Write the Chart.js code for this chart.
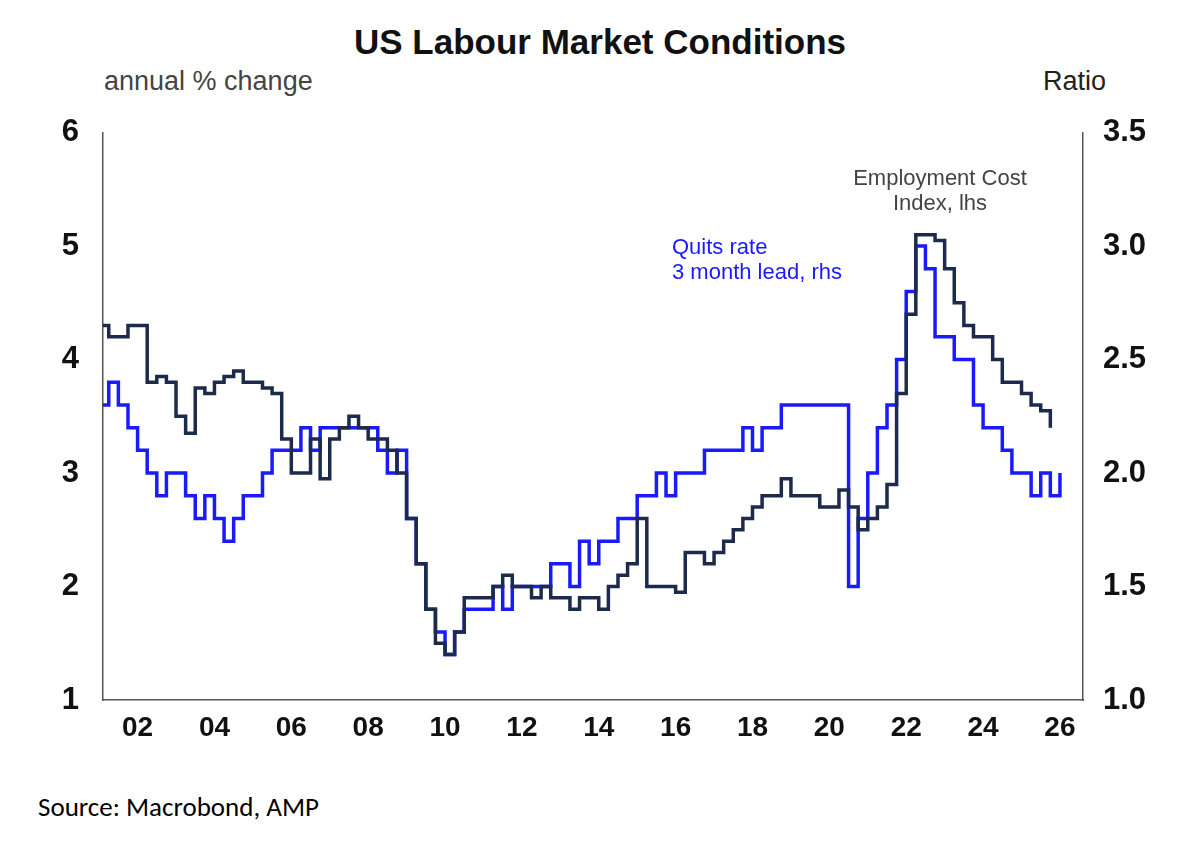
<!DOCTYPE html>
<html><head><meta charset="utf-8">
<script src="https://cdn.jsdelivr.net/npm/chart.js@4"></script>
<style>
body{margin:0;background:#fff;font-family:"Liberation Sans",Arial,sans-serif;}
#wrap{position:relative;width:1200px;height:845px;}
#title{position:absolute;top:22px;left:0;width:1200px;text-align:center;font-weight:bold;font-size:35px;color:#111;}
#lu{position:absolute;top:66px;left:104px;font-size:27px;color:#444;}
#ru{position:absolute;top:66px;left:1043px;font-size:27px;color:#222;}
#src{position:absolute;top:790px;left:38px;font-size:27px;font-family:Calibri,"Liberation Sans Narrow","Liberation Sans";color:#000;}
#box{position:absolute;left:30px;top:100px;width:1135px;height:660px;}
</style></head><body>
<div id="wrap">
<div id="title">US Labour Market Conditions</div>
<div id="lu">annual % change</div>
<div id="ru">Ratio</div>
<div id="box"><canvas id="c"></canvas></div>
<div id="src">Source: Macrobond, AMP</div>
</div>
<script>
const startYear = 2001;
const eciValues = [4.3,4.2,4.2,4.3, 4.3,3.8,3.85,3.8, 3.5,3.35,3.75,3.7, 3.8,3.85,3.9,3.8, 3.8,3.75,3.7,3.3,
  3.0,3.0,3.3,2.95, 3.3,3.4,3.5,3.4, 3.3,3.3,3.2,3.0, 2.6,2.2,1.8,1.5, 1.4,1.6,1.9,1.9,
  1.9,2.0,2.1,2.0, 2.0,1.9,2.0,1.9, 1.9,1.8,1.9,1.9, 1.8,2.0,2.1,2.2, 2.6,2.0,2.0,2.0,
  1.95,2.3,2.3,2.2, 2.3,2.4,2.5,2.6, 2.7,2.8,2.8,2.95, 2.8,2.8,2.8,2.7, 2.7,2.85,2.7,2.5,
  2.6,2.7,2.9,3.7, 4.4,5.1,5.1,5.05, 4.8,4.5,4.3,4.2, 4.2,4.0,3.8,3.8, 3.7,3.6,3.55,3.4];
const quitsValues = [2.3,2.4,2.3,2.2, 2.1,2.0,1.9,2.0, 2.0,1.9,1.8,1.9, 1.8,1.7,1.8,1.9, 1.9,2.0,2.1,2.1,
  2.1,2.2,2.1,2.2, 2.2,2.2,2.2,2.2, 2.2,2.1,2.0,2.1, 1.8,1.6,1.4,1.3, 1.2,1.3,1.4,1.4,
  1.4,1.5,1.4,1.5, 1.5,1.5,1.5,1.6, 1.6,1.5,1.7,1.6, 1.7,1.7,1.8,1.8, 1.9,1.9,2.0,1.9,
  2.0,2.0,2.0,2.1, 2.1,2.1,2.1,2.2, 2.1,2.2,2.2,2.3, 2.3,2.3,2.3,2.3, 2.3,2.3,1.5,1.8,
  2.0,2.2,2.3,2.5, 2.8,3.0,2.9,2.6, 2.6,2.5,2.5,2.3, 2.2,2.2,2.1,2.0, 2.0,1.9,2.0,1.9, 2.0];
const xTicks = [2002,2004,2006,2008,2010,2012,2014,2016,2018,2020,2022,2024,2026];

const toPts = arr => arr.map((v,i)=>({x:startYear+i/4, y:v}));

const notes = {
  id:'notes',
  afterDraw(ch){
    const c=ch.ctx; c.save();
    c.font='22px "Liberation Sans"'; c.textAlign='center';
    c.fillStyle='#444';
    c.fillText('Employment Cost',910,85); c.fillText('Index, lhs',910,110);
    c.fillStyle='#1a1aff'; c.textAlign='left';
    c.fillText('Quits rate',642,154); c.fillText('3 month lead, rhs',642,179);
    c.restore();
  }
};

new Chart(document.getElementById('c'),{
  type:'line',
  data:{datasets:[
    {label:'ECI',data:toPts(eciValues),yAxisID:'y',borderColor:'#1c2a4c',borderWidth:3.5,pointRadius:0,stepped:true},
    {label:'Quits',data:toPts(quitsValues),yAxisID:'y2',borderColor:'#1a1aff',borderWidth:3.5,pointRadius:0,stepped:true}
  ]},
  plugins:[notes],
  options:{
    responsive:true,maintainAspectRatio:false,animation:false,
    layout:{padding:{top:25,bottom:0}},
    plugins:{legend:{display:false},tooltip:{enabled:false}},
    scales:{
      x:{type:'linear',min:2001.1,max:2026.6,
        afterBuildTicks:a=>{a.ticks=xTicks.map(v=>({value:v}));},
        afterFit:a=>{a.height=60;},
        ticks:{callback:v=>String(v).slice(2),font:{size:28,weight:'bold',family:'Liberation Sans'},color:'#111',maxRotation:0},
        grid:{display:false,drawTicks:true,tickLength:8,color:'#555'},border:{color:'#555',width:1.5}},
      y:{position:'left',min:1,max:6,
        afterFit:a=>{a.width=73;},
        ticks:{stepSize:1,font:{size:31,weight:'bold',family:'Liberation Sans'},color:'#111',padding:14},
        grid:{display:false,tickLength:10},border:{color:'#555',width:1.5}},
      y2:{position:'right',min:1,max:3.5,
        afterFit:a=>{a.width=82;},
        ticks:{stepSize:0.5,callback:v=>v.toFixed(1),font:{size:31,weight:'bold',family:'Liberation Sans'},color:'#111',padding:10},
        grid:{display:false,tickLength:10},border:{color:'#555',width:1.5}}
    }
  }
});
</script>
</body></html>
